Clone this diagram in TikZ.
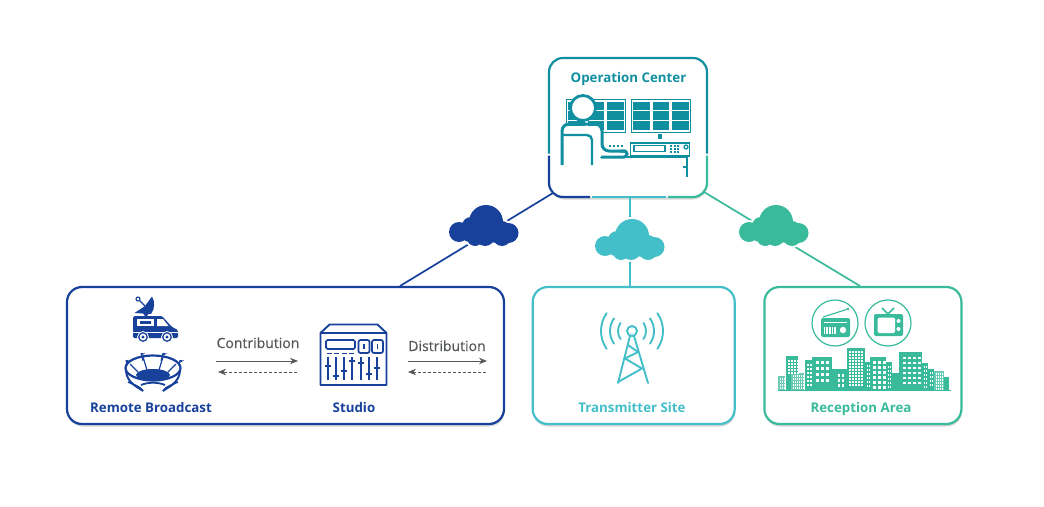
\documentclass[tikz,border=0pt]{standalone}
\usepackage{xcolor}
\usepackage{fontspec}
\setmainfont{Open Sans}
\usetikzlibrary{arrows.meta,positioning,shadows,calc}
\definecolor{NetBlue}{HTML}{17419A}
\definecolor{NetCyan}{HTML}{43BFC9}
\definecolor{NetGreen}{HTML}{38BA9B}
\definecolor{NetTeal}{HTML}{0F8FA0}
\definecolor{FlowGrey}{HTML}{55585A}
\tikzset{
  % Base box
  SB/.style={rectangle,rounded corners=15pt,minimum height=137pt,fill=white,
             line width=2.2pt,
             drop shadow={shadow xshift=0.5pt,shadow yshift=-2.5pt,opacity=0.16,fill=black}},
  % Colour variants
  sBlue/.style={SB,draw=NetBlue},
  sCyan/.style={SB,draw=NetCyan},
  sGreen/.style={SB,draw=NetGreen},
  % Label styles
  LB/.style={font=\fontsize{13.3}{15}\selectfont\bfseries,inner sep=0pt,anchor=base},
  LF/.style={font=\fontsize{14}{16}\selectfont\addfontfeatures{FakeBold=0.4},text=FlowGrey,inner sep=0pt,anchor=base},
  % Connectors and arrows
  link/.style={line width=1.7pt},
  fwd/.style={-{Stealth[length=8pt,width=6.5pt]},FlowGrey,line width=1pt},
  bwd/.style={-{Stealth[length=8pt,width=6.5pt]},FlowGrey,line width=0.7pt,densely dashed},
  seg/.style={line width=2.2pt,rounded corners=14pt},
  cloudmark/.style={inner sep=0pt,minimum size=1pt}
}
\begin{document}
\begin{tikzpicture}[x=1pt,y=-1pt]
  \path[fill=white,use as bounding box] (0,0) rectangle (1044,506);

  % boxes
  \node[sBlue,minimum width=437pt] (remote) at (285.5,355.5) {};
  \node[sCyan,minimum width=202pt,right=26.5pt of remote] (transmitter) {};
  \node[sGreen,minimum width=197pt,right=27.5pt of transmitter] (reception) {};
  \node[SB,minimum width=158pt,minimum height=139pt] (opcenter) at (628,127.5) {};

  % operation center rim in four parts
  \draw[seg,NetTeal] (549,153.5) -- (549,58) -- (707,58) -- (707,153.5);
  \draw[seg,NetBlue] (549,155.5) -- (549,197) -- (590,197);
  \draw[seg,NetCyan,rounded corners=0pt] (592,197) -- (666,197);
  \draw[seg,NetGreen] (668,197) -- (707,197) -- (707,155.5);

  % connectors
  \coordinate (opblue) at (553,193);
  \coordinate (opcyan) at (630,198);
  \coordinate (opgreen) at (704,192);
  \coordinate (remotetop) at (400,286);
  \coordinate (transmittertop) at (630,286);
  \coordinate (receptiontop) at (860,286);
  \node[cloudmark] (cloudblue) at ($(opblue)!0.45!(remotetop)$) {};
  \node[cloudmark] (cloudcyan) at (630,240) {};
  \node[cloudmark] (cloudgreen) at ($(opgreen)!0.45!(receptiontop)$) {};
  \draw[link,NetBlue] (opblue) -- (cloudblue) -- (remotetop);
  \draw[link,NetCyan] (opcyan) -- (cloudcyan) -- (transmittertop);
  \draw[link,NetGreen] (opgreen) -- (cloudgreen) -- (receptiontop);
  \foreach \tint/\pos in {NetBlue/{484,226},NetCyan/{630,240},NetGreen/{774,226}}{
    \foreach \halo/\tone in {2/white,0/\tint}{
      \foreach \cx/\cy/\rr in {2/-4/17,-25/6/10,24.5/7/10,-13/0/9,18/3/8,-9/12/8,1/10/10,18/11/9,-14/6/10,12/6/11}{
        \pgfmathsetmacro{\rtot}{\rr+\halo}
        \fill[\tone,shift={(\pos)}] (\cx,\cy) circle (\rtot);
      }
    }
  }

  % labels
  \node[LB,text=NetTeal] (oplabel) at (628.5,82) {Operation Center};
  \node[LB,text=NetBlue] (remotelabel) at (151,412) {Remote Broadcast};
  \node[LB,text=NetBlue] (studiolabel) at (354,412.5) {Studio};
  \node[LB,text=NetCyan] (txlabel) at (632,412) {Transmitter Site};
  \node[LB,text=NetGreen] (rxlabel) at (861,412) {Reception Area};
  \node[LF] (contrib) at (258,348) {Contribution};
  \node[LF] (distrib) at (447,351) {Distribution};

  % flow arrows
  \coordinate (cL) at (216,361); \coordinate (cR) at (298,361);
  \coordinate (cdL) at (218,372); \coordinate (cdR) at (297,372);
  \coordinate (dL) at (408,361); \coordinate (dR) at (487,361);
  \coordinate (ddL) at (408,372); \coordinate (ddR) at (486,372);
  \draw[fwd] (cL) -- (cR);
  \draw[bwd] (cdR) -- (cdL);
  \draw[fwd] (dL) -- (dR);
  \draw[bwd] (ddR) -- (ddL);

  % operator desk
  \draw[NetTeal,line width=1pt] (566,99) rectangle (625,132);
  \draw[NetTeal,line width=1pt] (631,99) rectangle (690,132);
  \foreach \ox in {0,65}{
    \foreach \gx in {568,587.5,607}{
      \foreach \gy/\gh in {101.5/8.5,111/8.5,120.5/9.5}{
        \fill[NetTeal] (\gx+\ox,\gy) rectangle ++(16.5,\gh);
      }
    }
  }
  \fill[NetTeal] (658,134) rectangle (662,139);
  \draw[NetTeal,line width=1.3pt] (630.5,143) rectangle (689.5,156);
  \draw[NetTeal,line width=1.3pt] (634,145.5) rectangle (665,151.5);
  \foreach \dx in {670,673.5,677}{
    \foreach \dy in {145,148,151}{
      \fill[NetTeal] (\dx,\dy) rectangle ++(2,2);
    }
  }
  \draw[NetTeal,line width=1.3pt] (686,147) circle (2);
  \foreach \kx in {609,613,617,621}{
    \fill[NetTeal] (\kx,144.5) rectangle ++(2,2);
  }
  \draw[NetTeal,line width=2.6pt] (600,157) -- (688,157);
  \draw[NetTeal,line width=2.6pt] (687,156) -- (687,177);
  \draw[NetTeal,line width=2.6pt] (683,167) -- (688,167);
  % operator
  \fill[white] (562,165) -- (562,126) -- (601,126) -- (601,152) -- (627,152) -- (627,157) -- (592,157) -- (592,165) -- cycle;
  \draw[NetTeal,line width=3pt,rounded corners=7pt] (562,165) -- (562,124) -- (602,124) -- (602,151) -- (626,151);
  \draw[NetTeal,line width=3pt,rounded corners=3pt] (620,151) -- (627,151) -- (627,157) -- (601,157);
  \draw[NetTeal,line width=2.4pt,rounded corners=5pt] (592,165) -- (592,135) -- (562,135);
  \draw[NetTeal,line width=2.8pt,fill=white] (583,108) circle (12.5);

  % outside broadcast van
  \fill[NetBlue,rounded corners=1.5pt] (133,316) -- (162,316) -- (172,327) -- (178,330) -- (178,338) -- (133,338) -- cycle;
  \fill[white] (137,318.5) rectangle (154,326);
  \fill[NetBlue] (140,320.5) rectangle (151,323.5);
  \fill[white] (157,319) -- (163,319) -- (168.5,326) -- (157,326) -- cycle;
  \fill[white] (133,331.5) rectangle (178,332.3);
  \foreach \wx in {143,167}{
    \draw[white,line width=0.8pt,fill=NetBlue] (\wx,337) circle (5.5);
    \fill[white] (\wx,337) circle (3.4);
    \fill[NetBlue] (\wx,337) circle (1.7);
  }
  % dish on the roof
  \fill[NetBlue] (134.5,313) -- (145,306) -- (152,296.5) .. controls (155,301) and (155,309) .. (151,314) -- cycle;
  \fill[NetBlue] (143,313) -- (149,313) -- (147,316) -- (145,316) -- cycle;
  \draw[NetBlue,line width=1.1pt] (138,299) circle (2) (139.5,300.5) -- (146,307);

  % stadium
  \foreach \fx/\fy/\tx/\ty in {126/360/127/366,141/353/143/361,163/353/161/361,180/360/179/366}{
    \draw[NetBlue,line width=1pt] (\fx,\fy) -- (\tx,\ty);
    \fill[NetBlue] (\fx,\fy) -- (\fx+4,\fy+0.5) -- (\fx,\fy+2.5) -- cycle;
  }
  \draw[NetBlue,line width=2.2pt] (153,368) ellipse (27.5 and 12.5);
  \fill[NetBlue] (153,375) ellipse (17 and 6);
  \draw[NetBlue,line width=1.2pt] (143,357) -- (147,370) (163,357) -- (159,370) (130,364) -- (138,372) (176,364) -- (168,372);
  \draw[NetBlue,line width=2pt] (126,371) .. controls (127,384) and (140,388) .. (143,391);
  \draw[NetBlue,line width=2pt] (180,371) .. controls (179,384) and (166,388) .. (163,391);
  \draw[NetBlue,line width=1.5pt] (128,382) .. controls (134,385) and (140,386) .. (143,391) (178,382) .. controls (172,385) and (166,386) .. (163,391);
  \draw[NetBlue,line width=1.8pt] (141,385) .. controls (148,382) and (158,382) .. (165,385);

  % studio mixing desk
  \draw[NetBlue,line width=1.9pt,line join=round] (320.5,333) -- (329.5,324.5) -- (377.5,324.5) -- (386.5,333) -- (386.5,385) -- (320.5,385) -- cycle;
  \draw[NetBlue,line width=1.7pt] (320.5,333) -- (386.5,333);
  \draw[NetBlue,line width=1.7pt,rounded corners=1.5pt] (326,340) rectangle (355,349);
  \foreach \px in {358.5,372}{
    \draw[NetBlue,line width=1.7pt,rounded corners=2pt] (\px,340) rectangle ++(11,13);
    \draw[NetBlue,line width=1.7pt] (\px+5.5,344) -- ++(0,5);
  }
  \foreach \qx in {326.5,334,341.5,349}{
    \fill[NetBlue] (\qx,353) rectangle ++(5,1.2);
  }
  \foreach \sx/\kn in {328/366,336/376,344/371,352/361,361/363,369/374,377/368}{
    \draw[NetBlue,line width=1.6pt] (\sx,357) -- (\sx,380);
    \fill[NetBlue] (\sx-3,\kn-1.2) rectangle (\sx+3,\kn+1.2);
  }

  % transmitter mast
  \begin{scope}[NetCyan,line width=1.9pt,line cap=round]
    \draw (632,331) circle (5);
    \draw (630,336) -- (618,383);
    \draw (634,336) -- (648,383);
    \draw (628,345) -- (638,352) -- (625,358.5) -- (642,368.5) -- (618,382);
    \foreach \rad in {14,22,31}{
      \draw (632,331) ++(35:\rad pt) arc (35:-35:\rad pt);
      \draw (632,331) ++(145:\rad pt) arc (145:215:\rad pt);
    }
  \end{scope}

  % radio and television
  \draw[NetGreen,line width=1.2pt] (835,323) circle (23);
  \draw[NetGreen,line width=1.2pt] (888,323) circle (23);
  \fill[NetGreen,rounded corners=2pt] (821,318) rectangle (850,337);
  \draw[NetGreen,line width=1.1pt] (823,317) -- (848,309);
  \fill[NetGreen] (848,309) circle (1.4);
  \fill[white] (824,321.5) rectangle (847,322.3);
  \foreach \gx in {824,825.6,...,836}{
    \fill[white] (\gx,327) rectangle ++(0.8,7);
  }
  \fill[white] (843,330) circle (3.2);
  \fill[NetGreen,rounded corners=2pt] (874,314) rectangle (903,336);
  \fill[white,rounded corners=1.5pt] (877.5,317.5) rectangle (895,333);
  \fill[white] (898.5,321) circle (2) (898.5,329) circle (2);
  \draw[NetGreen,line width=1.7pt] (882,308) -- (888,314) -- (894,308);

  % skyline
  \foreach \xa/\xb/\ytop in {786/798/356,805/812/360,812/832/357,832/847/369,847/865/348,865/870/362,870/886/357,886/892/362,892/899/373,899/922/352,922/928/363,928/934/369,944/949/377}{
    \fill[NetGreen] (\xa,\ytop) rectangle (\xb,390);
  }
  \foreach \xa/\xb/\ytop in {778/785/376,791/804/373,934/944/371}{
    \fill[NetGreen!75] (\xa,\ytop) rectangle (\xb,390);
  }
  \draw[NetGreen,line width=0.8pt] (778,390) -- (951,390);
  % windows as regular grids
  \foreach \xa/\xs/\xb/\ya/\ys/\yb/\ww/\wh in {
      816/821/827/361/367/380/3/3,
      849/852/862/351/354/386/2/1.6,
      873/878/883/361/366/386/2.6/2.6,
      903/908/918/357/362/386/2.6/2.2,
      838/842/842/374/379/386/2.4/2.6,
      807/810/810/364/368/386/1.5/2.2,
      867/869/869/365/369/386/1/2,
      888/890/890/366/370/386/1/2.2,
      924/926/926/366/370/386/1/2.2,
      930/932/932/372/376/386/1/2.2,
      788/791/797/360/363/372/1.5/1.6,
      793/795/803/375/378/389/1/2,
      780/782/784/378/381/389/1/2,
      936/938/943/373/376/388/1/1.8}{
    \foreach \wx in {\xa,\xs,...,\xb}{
      \foreach \wy in {\ya,\ys,...,\yb}{
        \fill[white] (\wx,\wy) rectangle ++(\ww,\wh);
      }
    }
  }
\end{tikzpicture}
\end{document}
